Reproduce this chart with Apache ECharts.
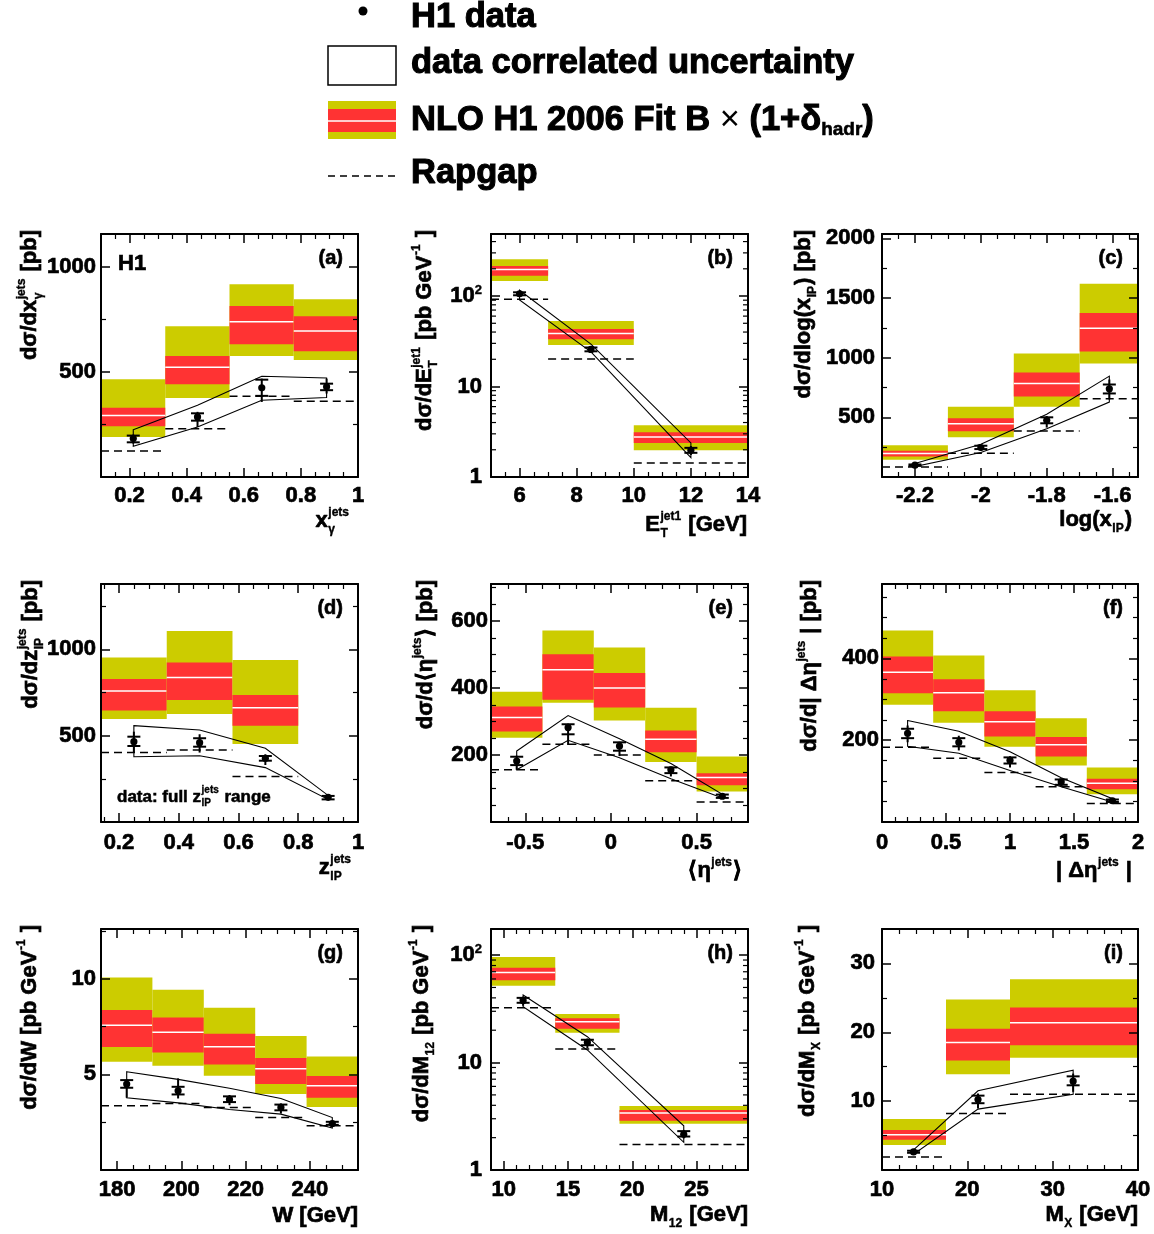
<!DOCTYPE html>
<html><head><meta charset="utf-8">
<script src="https://cdn.jsdelivr.net/npm/echarts@6/dist/echarts.min.js"></script>
<style>html,body{margin:0;padding:0;background:#fff}#c{width:1154px;height:1234px}</style>
</head><body><div id="c"></div>
<script>
// ---------------- DATA ----------------
// (a) x_gamma
const aEdges=[0.1,0.325,0.55,0.775,1.0];
const aOutLo=[190,376,576,557], aOutHi=[465,717,917,846];
const aInLo=[241,441,632,598], aInHi=[329,576,813,765];
const aCen=[292,522,738,694];
const aRap=[124,230,384,360];
const aX=[0.213,0.438,0.663,0.89], aY=[183,286,424,429];
const aStatLo=[165,268,386,413], aStatHi=[197,303,463,444];
const aTotLo=[159,238,357,397], aTotHi=[202,310,468,468];
const aCorrHi=[225,341,479,471], aCorrLo=[146,238,365,378];
// (b) ET jet1
const bEdges=[5,7,10,14];
const bOutLo=[147,28.7,1.97], bOutHi=[255,52.9,3.73];
const bInLo=[168,33.4,2.38], bInHi=[215,43.1,3.12];
const bCen=[197,38.6,2.77];
const bRap=[91.9,20.1,1.43];
const bX=[6,8.5,12], bY=[106,25.7,1.97];
const bStatLo=[102,24.5,1.85], bStatHi=[110,27.0,2.1];
const bTotLo=[100,23.6,1.75], bTotHi=[113,28.0,2.2];
const bCorrHi=[116,29.4,2.38], bCorrLo=[90.3,24.2,1.64];
const bMinor=[2,3,4,5,6,7,8,9,20,30,40,50,60,70,80,90,200,300,400];
// (c) log(x_IP)
const cEdges=[-2.3,-2.1,-1.9,-1.7,-1.523];
const cOutLo=[144,333,589,951], cOutHi=[266,589,1034,1619];
const cInLo=[172,383,675,1051], cInHi=[219,492,876,1374];
const cCen=[197,447,784,1246];
const cRap=[83,199,386,656];
const cX=[-2.2,-2.0,-1.8,-1.61], cY=[99,247,475,739];
const cStatLo=[93,234,450,700], cStatHi=[105,262,500,775];
const cTotLo=[90,219,414,650], cTotHi=[108,269,511,817];
const cCorrHi=[113,275,525,845], cCorrLo=[88,205,405,628];
// (d) z_IP
const dEdges=[0.14,0.36,0.58,0.80,1.0];
const dOutLo=[597,625,452], dOutHi=[952,1106,938];
const dInLo=[645,707,558], dInHi=[828,923,736];
const dCen=[759,836,662];
const dRap=[402,417,263];
const dX=[0.25,0.47,0.69,0.90], dY=[465,459,369,143];
const dStatLo=[440,436,355,131], dStatHi=[494,485,382,151];
const dTotLo=[402,402,330,127], dTotHi=[523,508,392,154];
const dCorrHi=[558,533,427,154], dCorrLo=[378,384,315,131];
// (e) <eta>
const eEdges=[-0.7,-0.4,-0.1,0.2,0.5,0.8];
const eOutLo=[252,356,303,179,91], eOutHi=[389,572,521,341,196];
const eInLo=[270,365,342,208,110], eInHi=[345,501,445,273,146];
const eCen=[312,455,400,247,133];
const eRap=[156,232,200,123,60];
const eX=[-0.55,-0.25,0.05,0.35,0.65], eY=[182,282,227,156,77];
const eStatLo=[170,262,213,146,72], eStatHi=[195,292,238,163,82];
const eTotLo=[156,230,197,136,70], eTotHi=[198,294,240,165,83];
const eCorrHi=[212,318,249,175,83], eCorrLo=[156,244,192,129,72];
// (f) |Delta eta|
const fEdges=[0,0.4,0.8,1.2,1.6,2.0];
const fOutLo=[287,243,184,138,68], fOutHi=[468,407,322,254,133];
const fInLo=[315,271,209,160,80], fInHi=[405,349,271,208,106];
const fCen=[366,316,245,189,95];
const fRap=[183,156,121,86,45];
const fX=[0.2,0.6,1.0,1.4,1.8], fY=[217,195,151,98,52];
const fStatLo=[205,185,143,91,49], fStatHi=[228,205,158,104,55];
const fTotLo=[195,175,133,86,47], fTotHi=[236,211,161,106,56];
const fCorrHi=[248,222,172,108,57], fCorrLo=[185,168,126,86,49];
// (g) W
const gEdges=[175,191,207,223,239,255];
const gOutLo=[5.66,5.45,4.93,3.97,3.29], gOutHi=[10.07,9.42,8.48,7.01,5.93];
const gInLo=[6.43,6.14,5.51,4.49,3.78], gInHi=[8.37,7.97,7.12,5.86,4.91];
const gCen=[7.57,7.20,6.45,5.30,4.41];
const gRap=[3.36,3.48,3.27,2.74,2.31];
const gX=[183,199,215,231,247], gY=[4.49,4.14,3.69,3.27,2.43];
const gStatLo=[4.30,3.95,3.55,3.12,2.36], gStatHi=[4.70,4.35,3.85,3.42,2.52];
const gTotLo=[3.78,3.74,3.39,2.95,2.31], gTotHi=[4.74,4.79,3.92,3.48,2.57];
const gCorrHi=[5.14,4.74,4.27,3.74,2.74], gCorrLo=[3.78,3.51,3.16,2.92,2.20];
// (h) M12
const hEdges=[9,14,19,29];
const hOutLo=[51.8,18.9,2.70], hOutHi=[95.8,28.3,3.94];
const hInLo=[58.5,20.6,2.88], hInHi=[76.3,25.9,3.61];
const hCen=[69.0,24.0,3.39];
const hRap=[32.4,13.4,1.73];
const hX=[11.5,16.5,24], hY=[37.9,15.4,2.15];
const hStatLo=[36,14.5,2.05], hStatHi=[40,16.3,2.3];
const hTotLo=[33.8,13.6,1.97], hTotHi=[41,16.7,2.36];
const hCorrHi=[42.5,17.4,2.58], hCorrLo=[33.1,13.1,1.81];
const hMinor=[2,3,4,5,6,7,8,9,20,30,40,50,60,70,80,90];
// (i) MX
const iEdges=[10,17.5,25,40];
const iOutLo=[3.64,13.9,16.3], iOutHi=[7.40,24.75,27.7];
const iInLo=[4.41,15.9,18.1], iInHi=[5.81,20.5,23.6];
const iCen=[5.13,18.5,21.4];
const iRap=[1.90,8.22,11.0];
const iX=[13.7,21.25,32.4], iY=[2.63,10.24,12.9];
const iStatLo=[2.5,9.7,12.3], iStatHi=[2.8,10.8,13.6];
const iTotLo=[2.4,8.94,11.35], iTotHi=[2.9,11.1,14.0];
const iCorrHi=[2.92,11.5,14.5], iCorrLo=[2.29,8.84,11.0];

// ---------------- LAYOUT / STYLE ----------------
const FONT="'Liberation Sans', Arial, Helvetica, sans-serif";
const YEL='#cccc00', RED='#ff3333';
const TB=0.7; // extra stroke to mimic heavy Helvetica bold

const P=[
 {id:'a',g:[101,234,257,243],xr:[0.1,1.0],xs:0.2,xm:4,yr:[0,1156],ys:500,ym:2,ylm:5,xlm:8,
  yt:['dσ/dx',{sub:'γ',sup:'jets'},' [pb]'],ytx:30,xt:['x',{sub:'γ',sup:'jets'}],xte:350,xty:521,
  D:{e:aEdges,oLo:aOutLo,oHi:aOutHi,iLo:aInLo,iHi:aInHi,c:aCen,rap:aRap,x:aX,y:aY,sLo:aStatLo,sHi:aStatHi,tLo:aTotLo,tHi:aTotHi,cHi:aCorrHi,cLo:aCorrLo}},
 {id:'b',g:[491,234,257,243],xr:[5,14],xs:2,xm:4,yr:[1,485],log:true,minor:bMinor,ylm:9,xlm:8,
  yt:['dσ/dE',{sub:'T',sup:'jet1'},' [pb GeV',{sup:'-1'},' ]'],ytx:425,xt:['E',{sub:'T',sup:'jet1'},' [GeV]'],xte:747,xty:525,
  D:{e:bEdges,oLo:bOutLo,oHi:bOutHi,iLo:bInLo,iHi:bInHi,c:bCen,rap:bRap,x:bX,y:bY,sLo:bStatLo,sHi:bStatHi,tLo:bTotLo,tHi:bTotHi,cHi:bCorrHi,cLo:bCorrLo}},
 {id:'c',g:[882,234,256,243],xr:[-2.3,-1.523],xs:0.2,xm:4,yr:[0,2036],ys:500,ym:2,ylm:7,xlm:8,
  yt:['dσ/dlog(x',{sub:'IP'},') [pb]'],ytx:804,xt:['log(x',{sub:'IP'},')'],xte:1132,xty:520,
  D:{e:cEdges,oLo:cOutLo,oHi:cOutHi,iLo:cInLo,iHi:cInHi,c:cCen,rap:cRap,x:cX,y:cY,sLo:cStatLo,sHi:cStatHi,tLo:cTotLo,tHi:cTotHi,cHi:cCorrHi,cLo:cCorrLo}},
 {id:'d',g:[101,584,257,238],xr:[0.14,1.0],xs:0.2,xm:4,yr:[0,1378],ys:500,ym:2,ylm:5,xlm:10,
  yt:['dσ/dz',{sub:'IP',sup:'jets'},' [pb]'],ytx:31,xt:['z',{sub:'IP',sup:'jets'}],xte:352,xty:868,
  D:{e:dEdges,oLo:dOutLo,oHi:dOutHi,iLo:dInLo,iHi:dInHi,c:dCen,rap:dRap,x:dX,y:dY,sLo:dStatLo,sHi:dStatHi,tLo:dTotLo,tHi:dTotHi,cHi:dCorrHi,cLo:dCorrLo}},
 {id:'e',g:[491,584,257,238],xr:[-0.7,0.8],xs:0.5,xm:5,yr:[0,711],ys:200,ym:4,ylm:3,xlm:10,
  yt:['dσ/d⟨η',{sup:'jets'},'⟩ [pb]'],ytx:426,xt:['⟨η',{sup:'jets'},'⟩'],xte:742,xty:871,
  D:{e:eEdges,oLo:eOutLo,oHi:eOutHi,iLo:eInLo,iHi:eInHi,c:eCen,rap:eRap,x:eX,y:eY,sLo:eStatLo,sHi:eStatHi,tLo:eTotLo,tHi:eTotHi,cHi:eCorrHi,cLo:eCorrLo}},
 {id:'f',g:[882,584,256,238],xr:[0,2],xs:0.5,xm:5,yr:[0,582],ys:200,ym:4,ylm:3,xlm:10,
  yt:['dσ/d| Δη',{sup:'jets'},' | [pb]'],ytx:810,xt:['| Δη',{sup:'jets'},' |'],xte:1132,xty:871,
  D:{e:fEdges,oLo:fOutLo,oHi:fOutHi,iLo:fInLo,iHi:fInHi,c:fCen,rap:fRap,x:fX,y:fY,sLo:fStatLo,sHi:fStatHi,tLo:fTotLo,tHi:fTotHi,cHi:fCorrHi,cLo:fCorrLo}},
 {id:'g',g:[101,929,257,241],xr:[175,255],xs:20,xm:4,yr:[0,12.6],ys:5,ym:2,ylm:5,xlm:9,
  yt:['dσ/dW [pb GeV',{sup:'-1'},' ]'],ytx:30,xt:['W [GeV]'],xte:358,xty:1216,
  D:{e:gEdges,oLo:gOutLo,oHi:gOutHi,iLo:gInLo,iHi:gInHi,c:gCen,rap:gRap,x:gX,y:gY,sLo:gStatLo,sHi:gStatHi,tLo:gTotLo,tHi:gTotHi,cHi:gCorrHi,cLo:gCorrLo}},
 {id:'h',g:[491,929,257,241],xr:[9,29],xs:5,xm:5,yr:[1,175],log:true,minor:hMinor,ylm:9,xlm:9,
  yt:['dσ/dM',{sub:'12'},' [pb GeV',{sup:'-1'},' ]'],ytx:422,xt:['M',{sub:'12'},' [GeV]'],xte:748,xty:1215,
  D:{e:hEdges,oLo:hOutLo,oHi:hOutHi,iLo:hInLo,iHi:hInHi,c:hCen,rap:hRap,x:hX,y:hY,sLo:hStatLo,sHi:hStatHi,tLo:hTotLo,tHi:hTotHi,cHi:hCorrHi,cLo:hCorrLo}},
 {id:'i',g:[882,929,256,241],xr:[10,40],xs:10,xm:5,yr:[0,35],ys:10,ym:2,ylm:7,xlm:9,
  yt:['dσ/dM',{sub:'X'},' [pb GeV',{sup:'-1'},' ]'],ytx:808,xt:['M',{sub:'X'},' [GeV]'],xte:1138,xty:1215,
  D:{e:iEdges,oLo:iOutLo,oHi:iOutHi,iLo:iInLo,iHi:iInHi,c:iCen,rap:iRap,x:iX,y:iY,sLo:iStatLo,sHi:iStatHi,tLo:iTotLo,tHi:iTotHi,cHi:iCorrHi,cLo:iCorrLo}}
];

// ---------------- helpers ----------------
const mctx=document.createElement('canvas').getContext('2d');
function tw(t,fs,fw){mctx.font=(fw||'bold')+' '+fs+'px '+FONT;return mctx.measureText(t).width;}
function layoutRich(parts,S){
  const s=Math.round(S*0.56);const items=[];let cx=0;
  for(const p of parts){
    if(typeof p==='string'){items.push({t:p,x:cx,y:0,fs:S,fw:'bold'});cx+=tw(p,S);continue;}
    if(p.t!=null){const fs=p.fs||S;const fw=p.fw||'bold';items.push({t:p.t,x:cx,y:p.dy||0,fs,fw});cx+=tw(p.t,fs,fw);continue;}
    let wm=0;
    if(p.sub!=null){items.push({t:p.sub,x:cx+0.5,y:S*0.38,fs:s,fw:'bold'});wm=Math.max(wm,tw(p.sub,s));}
    if(p.sup!=null){items.push({t:p.sup,x:cx+0.5,y:-S*0.40,fs:s,fw:'bold'});wm=Math.max(wm,tw(p.sup,s));}
    cx+=wm+1.5;
  }
  return {items,width:cx};
}
function richGroup(parts,S,x,y,opt){
  opt=opt||{};const L=layoutRich(parts,S);const off=opt.alignEnd?-L.width:0;
  return {type:'group',x,y,rotation:opt.rot||0,children:L.items.map(it=>({type:'text',x:it.x+off,y:it.y,
    style:{text:it.t,fontSize:it.fs,fontWeight:it.fw,fontFamily:FONT,fill:'#000',align:'left',verticalAlign:'middle',
      stroke:it.fw==='bold'?'#000':null,lineWidth:it.fw==='bold'?TB*it.fs/22:0}}))};
}
function linFmt(step,hideZero){return v=>{const r=v/step;if(Math.abs(r-Math.round(r))>1e-6)return '';if(hideZero&&Math.abs(v)<1e-9)return '';return String(parseFloat(v.toFixed(6)));};}
function logFmt(v){const e=Math.log10(v);const re=Math.round(e);if(Math.abs(e-re)>1e-6)return '';if(re===0)return '1';if(re===1)return '10';return '{m|10}{s|'+re+'}';}

const LBL={fontSize:22,fontWeight:'bold',color:'#000',fontFamily:FONT,textBorderColor:'#000',textBorderWidth:TB};
const axLine={show:true,onZero:false,lineStyle:{color:'#000',width:2}};
const tick={show:true,inside:true,length:9,lineStyle:{color:'#000',width:1.5}};

function bandRender(params,api){
  const p=(x,y)=>api.coord([x,y]);
  const x0=api.value(0),x1=api.value(1);
  const o1=p(x0,api.value(3)),o2=p(x1,api.value(2));
  const i1=p(x0,api.value(5)),i2=p(x1,api.value(4));
  const c1=p(x0,api.value(6)),c2=p(x1,api.value(6));
  return {type:'group',children:[
    {type:'rect',shape:{x:o1[0],y:o1[1],width:o2[0]-o1[0],height:o2[1]-o1[1]},style:{fill:YEL}},
    {type:'rect',shape:{x:i1[0],y:i1[1],width:i2[0]-i1[0],height:i2[1]-i1[1]},style:{fill:RED}},
    {type:'line',shape:{x1:c1[0],y1:c1[1],x2:c2[0],y2:c2[1]},style:{stroke:'#fff',lineWidth:1.5}}]};
}
function rapRender(params,api){
  const a=api.coord([api.value(0),api.value(2)]),b=api.coord([api.value(1),api.value(2)]);
  return {type:'line',shape:{x1:a[0],y1:a[1],x2:b[0],y2:b[1]},style:{stroke:'#000',lineWidth:1.5,lineDash:[8,5]}};
}
function pointRender(params,api){
  const x=api.value(0);const c=api.coord([x,api.value(1)]);
  const sl=api.coord([x,api.value(2)]),sh=api.coord([x,api.value(3)]);
  const tl=api.coord([x,api.value(4)]),th=api.coord([x,api.value(5)]);
  const w=6.5,st={stroke:'#000',lineWidth:2};
  return {type:'group',children:[
    {type:'line',shape:{x1:c[0],y1:tl[1],x2:c[0],y2:th[1]},style:st},
    {type:'line',shape:{x1:c[0]-w,y1:sl[1],x2:c[0]+w,y2:sl[1]},style:st},
    {type:'line',shape:{x1:c[0]-w,y1:sh[1],x2:c[0]+w,y2:sh[1]},style:st},
    {type:'circle',shape:{cx:c[0],cy:c[1],r:3.6},style:{fill:'#000'}}]};
}
function envRender(D){
  return function(params,api){
    if(params.dataIndex!==0)return null;
    const up=D.x.map((x,k)=>api.coord([x,D.cHi[k]]));
    const lo=D.x.map((x,k)=>api.coord([x,D.cLo[k]])).reverse();
    return {type:'polygon',shape:{points:up.concat(lo)},style:{fill:'none',stroke:'#000',lineWidth:1.1}};
  };
}

const option={animation:false,textStyle:{fontFamily:FONT},grid:[],xAxis:[],yAxis:[],series:[],graphic:[]};
P.forEach((p,k)=>{
  const [L,T,W,H]=p.g;
  option.grid.push({left:L,top:T,width:W,height:H,containLabel:false,outerBoundsMode:'none'});
  ['bottom','top'].forEach((pos,j)=>{
    option.xAxis.push({type:'value',gridIndex:k,position:pos,min:p.xr[0],max:p.xr[1],minInterval:p.xs,maxInterval:p.xs,z:10,
      axisLine:axLine,axisTick:tick,splitLine:{show:false},
      minorTick:{show:true,splitNumber:p.xm,length:5,lineStyle:{color:'#000',width:1.2}},
      axisLabel:Object.assign({show:j===0,margin:p.xlm,formatter:linFmt(p.xs,false)},LBL)});
  });
  ['left','right'].forEach((pos,j)=>{
    const base={gridIndex:k,position:pos,min:p.yr[0],max:p.yr[1],z:10,axisLine:axLine,axisTick:tick,splitLine:{show:false}};
    if(p.log){
      option.yAxis.push(Object.assign(base,{type:'log',logBase:10,minorTick:{show:false},
        axisLabel:Object.assign({show:j===0,margin:p.ylm,formatter:logFmt,
          rich:{m:Object.assign({},LBL),s:Object.assign({},LBL,{fontSize:13,textBorderWidth:0.4,padding:[0,0,12,0]})}},LBL)}));
    } else {
      option.yAxis.push(Object.assign(base,{type:'value',minInterval:p.ys,maxInterval:p.ys,
        minorTick:{show:true,splitNumber:p.ym,length:5,lineStyle:{color:'#000',width:1.2}},
        axisLabel:Object.assign({show:j===0,margin:p.ylm,formatter:linFmt(p.ys,true)},LBL)}));
    }
  });
  const xi=2*k,yi=2*k,D=p.D;
  option.series.push({type:'custom',xAxisIndex:xi,yAxisIndex:yi,renderItem:bandRender,encode:{x:[0,1],y:[2,3]},
    data:D.c.map((v,m)=>[D.e[m],D.e[m+1],D.oLo[m],D.oHi[m],D.iLo[m],D.iHi[m],v])});
  option.series.push({type:'custom',xAxisIndex:xi,yAxisIndex:yi,renderItem:rapRender,encode:{x:[0,1],y:2},
    data:D.rap.map((v,m)=>[D.e[m],D.e[m+1],v])});
  option.series.push({type:'custom',xAxisIndex:xi,yAxisIndex:yi,renderItem:envRender(D),encode:{x:0,y:[1,2]},
    data:D.x.map((v,m)=>[v,D.cHi[m],D.cLo[m]])});
  option.series.push({type:'custom',xAxisIndex:xi,yAxisIndex:yi,renderItem:pointRender,encode:{x:0,y:[1,4,5]},
    data:D.x.map((v,m)=>[v,D.y[m],D.sLo[m],D.sHi[m],D.tLo[m],D.tHi[m]])});
  if(p.log){
    option.series.push({type:'custom',xAxisIndex:xi,yAxisIndex:yi,encode:{x:0,y:1},z:11,
      renderItem:(params,api)=>{const v=api.value(1);const a=api.coord([p.xr[0],v]),b=api.coord([p.xr[1],v]);
        const st={stroke:'#000',lineWidth:1.2};
        return {type:'group',children:[{type:'line',shape:{x1:a[0],y1:a[1],x2:a[0]+5,y2:a[1]},style:st},
          {type:'line',shape:{x1:b[0],y1:b[1],x2:b[0]-5,y2:b[1]},style:st}]};},
      data:p.minor.map(v=>[p.xr[0],v])});
  }
  option.graphic.push(richGroup(p.yt,22,p.ytx,T-4,{alignEnd:true,rot:Math.PI/2}));
  option.graphic.push(richGroup(p.xt,22,p.xte,p.xty,{alignEnd:true}));
  option.graphic.push(richGroup(['('+p.id+')'],20,L+W-15,T+24,{alignEnd:true}));
});
// panel extras
option.graphic.push(richGroup(['H1'],22,118,264,{}));
option.graphic.push(richGroup(['data: full z',{sub:'IP',sup:'jets'},' range'],17,117,797,{}));
// legend
option.graphic.push({type:'circle',shape:{cx:363,cy:11,r:4.5},style:{fill:'#000'}});
option.graphic.push(richGroup(['H1 data'],34.5,411,17,{}));
option.graphic.push({type:'rect',shape:{x:328,y:46,width:68,height:39},style:{fill:'#fff',stroke:'#000',lineWidth:1.5}});
option.graphic.push(richGroup(['data correlated uncertainty'],34.5,411,63,{}));
option.graphic.push({type:'rect',shape:{x:328,y:101,width:68,height:38},style:{fill:YEL}});
option.graphic.push({type:'rect',shape:{x:328,y:109,width:68,height:23},style:{fill:RED}});
option.graphic.push({type:'line',shape:{x1:328,y1:121,x2:396,y2:121},style:{stroke:'#fff',lineWidth:1.5}});
option.graphic.push(richGroup(['NLO H1 2006 Fit B',{t:' × ',fw:'normal'},'(1+δ',{t:'hadr',fs:19,dy:10},')'],34.5,411,120,{}));
option.graphic.push({type:'line',shape:{x1:328,y1:176,x2:396,y2:176},style:{stroke:'#000',lineWidth:1.5,lineDash:[7,5]}});
option.graphic.push(richGroup(['Rapgap'],34.5,411,173,{}));

const chart=echarts.init(document.getElementById('c'),null,{renderer:'canvas'});
chart.setOption(option);
</script></body></html>
